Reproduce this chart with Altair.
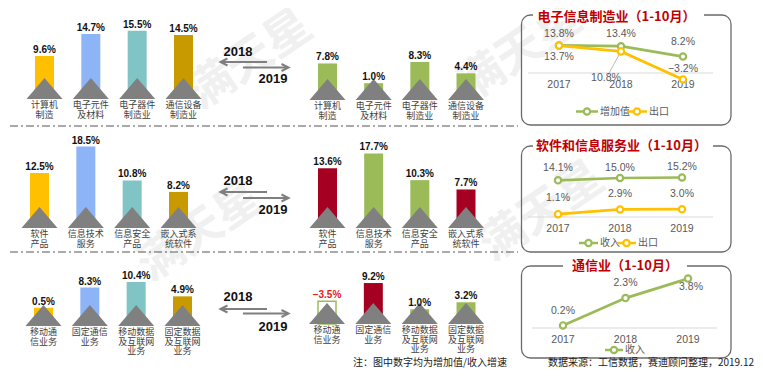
import altair as alt
import pandas as pd

# ---------------- data ----------------
years = ["2017", "2018", "2019"]

mfg_cats = ["计算机\n制造", "电子元件\n及材料", "电子器件\n制造业", "通信设备\n制造业"]
mfg_2018 = [9.6, 14.7, 15.5, 14.5]
mfg_2019 = [7.8, 1.0, 8.3, 4.4]

sw_cats = ["软件\n产品", "信息技术\n服务", "信息安全\n产品", "嵌入式系\n统软件"]
sw_2018 = [12.5, 18.5, 10.8, 8.2]
sw_2019 = [13.6, 17.7, 10.3, 7.7]

tel_cats = ["移动通\n信业务", "固定通信\n业务", "移动数据\n及互联网\n业务", "固定数据\n及互联网\n业务"]
tel_2018 = [0.5, 8.3, 10.4, 4.9]
tel_2019 = [-3.5, 9.2, 1.0, 3.2]

mfg_added = [13.8, 13.4, 8.2]
mfg_export = [13.7, 10.8, -3.2]
sw_income = [14.1, 15.0, 15.2]
sw_export = [1.1, 2.9, 3.0]
tel_income = [0.2, 2.3, 3.8]

titles = ["电子信息制造业（1-10月）", "软件和信息服务业（1-10月）", "通信业（1-10月）"]
year_pair = ["2018", "2019"]
note_text = "注：图中数字均为增加值/收入增速"
source_text = "数据来源：工信数据，赛迪顾问整理，2019.12"
watermark = "满天星"

# ---------------- style ----------------
W, H = 747, 360
OFF = 8
CJK = "Noto Sans CJK SC"
NUM = "Liberation Sans"
GREEN = "#9BBB59"
RED = "#A50021"
YELLOW = "#FFC000"
GRAY_T = "#595959"
ARROW = "#7F7F7F"
C2018 = ["#FFC000", "#8DB4F6", "#80C4C5", "#C99A00"]
C2019_mfg = [GREEN, GREEN, GREEN, GREEN]
C2019_sw = [RED, GREEN, GREEN, RED]
C2019_tel = [GREEN, RED, GREEN, GREEN]
TRI = "M -1 0 L 0 -1.17 L 1 0 Z"


def P(v):
    return v - OFF


one = pd.DataFrame({"a": [0]})


def bar_section(cats, vals, colors, x0, x1, base, k, off):
    top = 30
    df = pd.DataFrame({"cat": cats, "val": vals})
    xsc = alt.Scale(type="point", domain=cats, range=[P(x0), P(x1)], padding=0)
    ysc = alt.Scale(domain=[-off, top], range=[P(base), P(base) - k * (top + off)],
                    nice=False, zero=False)
    csc = alt.Scale(domain=cats, range=colors)
    b = alt.Chart(df).transform_calculate(
        mag="abs(datum.val)",
        lab="format(datum.val, '.1f') + '%'",
        floor=f"{-off}",
    )
    X = alt.X("cat:N", scale=xsc, axis=None)
    Ymag = alt.Y("mag:Q", scale=ysc, axis=None)
    Yfl = alt.Y("floor:Q", scale=ysc, axis=None)
    bars = b.transform_filter("datum.val >= 0").mark_bar(width=19).encode(
        x=X, y=Ymag, y2="floor:Q",
        fill=alt.Fill("cat:N", scale=csc, legend=None))
    hollow = b.transform_filter("datum.val < 0").mark_bar(
        width=18, fill="white", stroke=GREEN, strokeWidth=1.5).encode(
        x=X, y=Ymag, y2="floor:Q")
    tri = b.mark_point(shape=TRI, size=1296, filled=True, fill="#808080",
                       opacity=1, strokeWidth=0).encode(x=X, y=Yfl)
    vlab = b.mark_text(baseline="bottom", dy=-1, fontSize=10, fontWeight="bold",
                       font=NUM).encode(
        x=X, y=Ymag, text="lab:N",
        color=alt.condition("datum.val < 0", alt.value("#E3211C"), alt.value("#111111")))
    clab = b.mark_text(baseline="top", dy=2, lineBreak="\n", lineHeight=9.6,
                       fontSize=9, font=CJK, color="#404040").encode(
        x=X, y=Yfl, text="cat:N")
    return [bars, hollow, tri, vlab, clab]


def arrows(y18, yu, yl, y19):
    c = alt.Chart(one)
    return [
        c.mark_rule(color=ARROW, strokeWidth=2).encode(
            x=alt.value(P(221)), x2=alt.value(P(267)), y=alt.value(P(yu))),
        c.mark_point(shape="M 1 -1 L -1 0 L 1 1", size=49, filled=False, stroke=ARROW,
                     strokeWidth=2, opacity=1).encode(x=alt.value(P(224)), y=alt.value(P(yu))),
        c.mark_rule(color=ARROW, strokeWidth=2).encode(
            x=alt.value(P(243)), x2=alt.value(P(288)), y=alt.value(P(yl))),
        c.mark_point(shape="M -1 -1 L 1 0 L -1 1", size=49, filled=False, stroke=ARROW,
                     strokeWidth=2, opacity=1).encode(x=alt.value(P(285)), y=alt.value(P(yl))),
        c.mark_text(fontSize=13, fontWeight="bold", font=NUM, color="#111111").encode(
            x=alt.value(P(238)), y=alt.value(P(y18)), text=alt.value(year_pair[0])),
        c.mark_text(fontSize=13, fontWeight="bold", font=NUM, color="#111111").encode(
            x=alt.value(P(273)), y=alt.value(P(y19)), text=alt.value(year_pair[1])),
    ]


def line_series(vals, color, xr, y0, k, offsets):
    df = pd.DataFrame({"year": years, "v": vals})
    lo, hi = -10, 20
    xsc = alt.Scale(type="point", domain=years, range=[P(xr[0]), P(xr[1])], padding=0)
    ysc = alt.Scale(domain=[lo, hi], range=[P(y0) + k * (-lo), P(y0) - k * hi],
                    nice=False, zero=False)
    X = alt.X("year:N", scale=xsc, axis=None)
    Y = alt.Y("v:Q", scale=ysc, axis=None)
    c = alt.Chart(df)
    out = [
        c.mark_line(color=color, strokeWidth=2.7).encode(x=X, y=Y),
        c.mark_point(shape="circle", filled=True, fill="white", stroke=color,
                     strokeWidth=2.2, size=40, opacity=1).encode(x=X, y=Y),
    ]
    for yr, (dx, dy) in zip(years, offsets):
        out.append(
            c.transform_filter(f"datum.year == '{yr}'")
            .transform_calculate(lab="format(datum.v, '.1f') + '%'")
            .mark_text(dx=dx, dy=dy, fontSize=10.5, font=NUM, color=GRAY_T)
            .encode(x=X, y=Y, text="lab:N"))
    return out


def year_axis(xr, ybase, ylab, xl0, xl1):
    df = pd.DataFrame({"year": years})
    xsc = alt.Scale(type="point", domain=years, range=[P(xr[0]), P(xr[1])], padding=0)
    return [
        alt.Chart(one).mark_rule(color="#D9D9D9", strokeWidth=1).encode(
            x=alt.value(P(xl0)), x2=alt.value(P(xl1)), y=alt.value(P(ybase))),
        alt.Chart(df).mark_text(fontSize=10.5, font=NUM, color=GRAY_T).encode(
            x=alt.X("year:N", scale=xsc, axis=None), y=alt.value(P(ylab)), text="year:N"),
    ]


def box(x0, x1, y0, y1, title, tx, gap0, gap1, ty=None):
    c = alt.Chart(one)
    ty = y0 if ty is None else ty
    return [
        c.mark_rect(cornerRadius=9, fill="white", fillOpacity=0, stroke="#6B6B6B",
                    strokeWidth=1.3).encode(
            x=alt.value(P(x0)), x2=alt.value(P(x1)), y=alt.value(P(y0)), y2=alt.value(P(y1))),
        c.mark_rect(fill="white").encode(
            x=alt.value(P(gap0)), x2=alt.value(P(gap1)), y=alt.value(P(y0 - 6)),
            y2=alt.value(P(y0 + 6))),
        c.mark_text(fontSize=13, fontWeight="bold", font=CJK, color="#C00000").encode(
            x=alt.value(P(tx)), y=alt.value(P(ty)), text=alt.value(title)),
    ]


def legend_item(xl, xr, y, color, label):
    c = alt.Chart(one)
    return [
        c.mark_rule(color=color, strokeWidth=2.5).encode(
            x=alt.value(P(xl)), x2=alt.value(P(xr)), y=alt.value(P(y))),
        c.mark_point(shape="circle", filled=True, fill="white", stroke=color,
                     strokeWidth=2.2, size=40, opacity=1).encode(
            x=alt.value(P((xl + xr) / 2)), y=alt.value(P(y))),
        c.mark_text(align="left", fontSize=10, font=CJK, color=GRAY_T).encode(
            x=alt.value(P(xr + 2)), y=alt.value(P(y)), text=alt.value(label)),
    ]


def wmark(x, y, size=46):
    return alt.Chart(one).mark_text(fontSize=size, fontWeight="bold", font=CJK,
                                    color="#F0F0F0", angle=326).encode(
        x=alt.value(P(x)), y=alt.value(P(y)), text=alt.value(watermark))


layers = []

# faint watermarks
layers += [wmark(250, 60), wmark(200, 232), wmark(520, 52), wmark(542, 212)]

# separators
for ys in (126, 252):
    layers.append(alt.Chart(one).mark_rule(color="#555555", strokeWidth=1,
                                           strokeDash=[8, 3, 2, 3]).encode(
        x=alt.value(P(10)), x2=alt.value(P(518)), y=alt.value(P(ys))))

# boxes
layers += box(521.5, 731, 15, 125, titles[0], 616.5, 533, 704, ty=16.5)
layers += box(521.5, 731, 146, 252, titles[1], 621.5, 533, 713)
layers += box(521.5, 731, 266, 358, titles[2], 625, 563, 687)

# row 1
layers += bar_section(mfg_cats, mfg_2018, C2018, 44.5, 183.5, 99, 4.3, 0.4)
layers += bar_section(mfg_cats, mfg_2019, C2019_mfg, 327.5, 466, 100, 2.9, 4.8)
layers += arrows(52, 62, 67.5, 79)
# row 2
layers += bar_section(sw_cats, sw_2018, C2018, 39.5, 178.5, 228, 4.4, 0)
layers += bar_section(sw_cats, sw_2019, C2019_sw, 327.5, 466, 228, 3.6, 3)
layers += arrows(181, 192, 198, 210)
# row 3
layers += bar_section(tel_cats, tel_2018, C2018, 43.5, 182.5, 326, 2.6, 6.5)
layers += bar_section(tel_cats, tel_2019, C2019_tel, 327, 466, 324, 3.2, 3.6)
layers += arrows(297, 309, 313.5, 327)

# line chart 1
layers += year_axis((559, 683), 73, 85, 528, 713)
layers.append(alt.Chart(one).mark_rule(color="#A6A6A6", strokeWidth=0.8).encode(
    x=alt.value(P(608)), x2=alt.value(P(620)), y=alt.value(P(75)), y2=alt.value(P(53))))
layers += line_series(mfg_added, GREEN, (559, 683), 73, 2.0,
                      [(0, -11.5), (0, -12), (0, -14.5)])
layers += line_series(mfg_export, YELLOW, (559, 683), 73, 2.0,
                      [(0, 11.5), (-15, 26.5), (0, -10.5)])
layers += legend_item(576, 598, 111.5, GREEN, "增加值")
layers += legend_item(627, 647, 111.5, YELLOW, "出口")

# line chart 2
layers += year_axis((558, 682), 217, 229, 528, 713)
layers += line_series(sw_income, GREEN, (558, 682), 217, 2.6,
                      [(0, -12), (0, -10), (0, -10)])
layers += line_series(sw_export, YELLOW, (558, 682), 217, 2.6,
                      [(0, -16.5), (0, -15), (0, -15)])
layers += legend_item(579, 598, 243, GREEN, "收入")
layers += legend_item(617, 636, 243, YELLOW, "出口")

# line chart 3
layers += year_axis((563, 688), 328, 340, 532, 717)
layers += line_series(tel_income, GREEN, (563, 688), 328, 13.0,
                      [(0, -14.5), (0, -15), (3, 8.5)])
layers += legend_item(605, 623, 350, GREEN, "收入")

# notes
layers.append(alt.Chart(one).mark_text(align="left", fontSize=10, font=CJK, color="#222222").encode(
    x=alt.value(P(353)), y=alt.value(P(362.5)), text=alt.value(note_text)))
layers.append(alt.Chart(one).mark_text(align="right", fontSize=10, font=CJK, color="#222222").encode(
    x=alt.value(W - 1), y=alt.value(P(362.5)), text=alt.value(source_text)))

chart = alt.layer(*layers).resolve_scale(
    x="independent", y="independent", fill="independent", color="independent"
).properties(
    width=W, height=H, padding=0, background="white",
    autosize=alt.AutoSizeParams(type="none"),
).configure_view(stroke=None)

chart.save("out.html", embed_options={"renderer": "svg", "actions": False})
